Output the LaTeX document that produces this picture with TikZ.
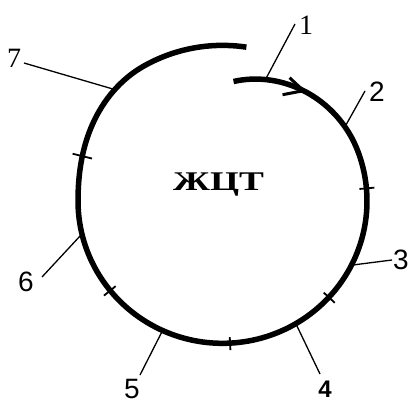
\documentclass[tikz,border=0pt]{standalone}
\usepackage{fontspec}
\setmainfont{Liberation Serif}
\setsansfont{Liberation Sans}
\usetikzlibrary{calc}
\begin{document}
\begin{tikzpicture}[x=1pt,y=-1pt,
  declare function={
    uu(\t)=min(1,max(0,(\t-180)/60));
    rr(\t)=144.5+13.5*uu(\t)*uu(\t)*(3-2*uu(\t))-0.0054*(max(0,-20-\t))^2;
    px(\t)=222.5+rr(\t)*cos(\t);
    py(\t)=201+0.985*rr(\t)*sin(\t);},
  curve/.style={line width=5.5pt, line cap=butt, line join=round},
  leader/.style={line width=1.3pt},
  tickmark/.style={line width=1.8pt},
  chevron/.style={line width=3pt, line join=miter},
  lab/.style={font=\sffamily\fontsize{28}{28}\selectfont, inner sep=0pt},
  slab/.style={font=\rmfamily\fontsize{28}{28}\selectfont, inner sep=0pt}]
\useasboundingbox (0,0) rectangle (409,403);
\fill[white] (0,0) rectangle (409,403);
% spiral circle
\draw[curve] plot[domain=-84.8:278.7, samples=200, variable=\t] ({px(\t)},{py(\t)});
% points on the curve
\coordinate (p1) at ({px(-70.8)},{py(-70.8)});
\coordinate (p2) at ({px(-31.6)},{py(-31.6)});
\coordinate (p3) at ({px(26.8)},{py(26.8)});
\coordinate (p4) at ({px(59.5)},{py(59.5)});
\coordinate (p5) at ({px(114.5)},{py(114.5)});
\coordinate (p6) at ({px(166.6)},{py(166.6)});
\coordinate (p7) at ({px(226.4)},{py(226.4)});
\coordinate (arr) at ({px(-54.1)},{py(-54.1)});
% tick points
\coordinate (t1) at ({px(-5.1)},{py(-5.1)});
\coordinate (t2) at ({px(42.6)},{py(42.6)});
\coordinate (t3) at ({px(87)},{py(87)});
\coordinate (t4) at ({px(141)},{py(141)});
\coordinate (t5) at ({px(198)},{py(198)});
% leader ends
\coordinate (e1) at (295,24);
\coordinate (e2) at (365,91);
\coordinate (e3) at (392,260);
\coordinate (e4) at (320,374);
\coordinate (e5) at (140,375);
\coordinate (e6) at (42,277);
\coordinate (e7) at (24,63);
% arrow chevron
\draw[chevron] ($(arr)+(-14,-13)$) -- (arr) -- ($(arr)+(-21,4)$);
% ticks
\draw[tickmark] ($(t1)+(-5.1:-7)$) -- ($(t1)+(-5.1:8)$);
\draw[tickmark] ($(t2)+(42.6:-7)$) -- ($(t2)+(42.6:8)$);
\draw[tickmark] ($(t3)+(87:-6)$) -- ($(t3)+(87:7)$);
\draw[tickmark] ($(t4)+(141:-7)$) -- ($(t4)+(141:8)$);
\draw[tickmark] ($(t5)+(194:-10)$) -- ($(t5)+(194:10)$);
% leaders
\draw[leader] (p1) -- (e1);
\draw[leader] (p2) -- (e2);
\draw[leader] (p3) -- (e3);
\draw[leader] (p4) -- (e4);
\draw[leader] (p5) -- (e5);
\draw[leader] (p6) -- (e6);
\draw[leader] (p7) -- (e7);
% labels
\node[slab] (l1) at (306,25) {1};
\node[lab] (l2) at (377,92) {2};
\node[lab] (l3) at (401,260) {3};
\node[font=\sffamily\bfseries\fontsize{24}{24}\selectfont, inner sep=0pt] (l4) at (325,389) {4};
\node[lab] (l5) at (132,389) {5};
\node[lab] (l6) at (26,282) {6};
\node[slab] (l7) at (14,58) {7};
\node[inner sep=0pt, anchor=base, font=\rmfamily\bfseries\fontsize{27}{27}\selectfont] (title) at (218.5,191) {\scalebox{1.38}[1]{ЖЦТ}};
\end{tikzpicture}
\end{document}
